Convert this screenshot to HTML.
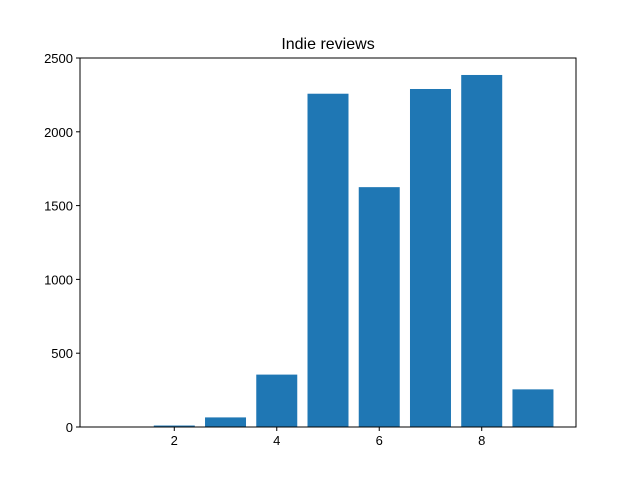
<!DOCTYPE html>
<html><head><meta charset="utf-8"><style>
body{margin:0;background:#fff;}
svg{display:block;font-family:"Liberation Sans","DejaVu Sans",sans-serif;}
</style></head><body>
<svg id="chart" width="640" height="480">
<rect width="640" height="480" fill="#fff"/>
<text x="328" y="49" text-anchor="middle" font-size="16">Indie reviews</text>
<g id="bars"></g>
<g id="xticks"></g>
<g id="yticks"></g>
<rect x="80" y="58" width="496" height="369" fill="none" stroke="#000" stroke-width="1"/>
</svg>
<script>
const categories=[1,2,3,4,5,6,7,8,9];
const values=[2,10,65,355,2258,1625,2290,2385,255];
const xTicks=[2,4,6,8];
const yTicks=[0,500,1000,1500,2000,2500];
const L=80,R=576,T=58,B=427,xmin=0.16,xmax=9.84,ymax=2500;
const sx=v=>L+(v-xmin)/(xmax-xmin)*(R-L);
const sy=v=>B-v/ymax*(B-T);
const NS="http://www.w3.org/2000/svg";
const bars=document.getElementById('bars');
categories.forEach((c,i)=>{
 const r=document.createElementNS(NS,'rect');
 const x0=sx(c-0.4),x1=sx(c+0.4);
 r.setAttribute('x',x0);r.setAttribute('width',x1-x0);
 r.setAttribute('y',sy(values[i]));r.setAttribute('height',B-sy(values[i]));
 r.setAttribute('fill','#1f77b4');
 
 
 bars.appendChild(r);
});
const xg=document.getElementById('xticks');
xTicks.forEach(t=>{
 const x=sx(t);
 const l=document.createElementNS(NS,'line');
 l.setAttribute('x1',x);l.setAttribute('x2',x);l.setAttribute('y1',B);l.setAttribute('y2',B+4);l.setAttribute('stroke','#000');
 
 
 xg.appendChild(l);
 const s=document.createElementNS(NS,'text');
 s.setAttribute('x',x);s.setAttribute('y',B+18);s.setAttribute('text-anchor','middle');s.setAttribute('font-size','13');
 s.textContent=t;
 
 
 xg.appendChild(s);
});
const yg=document.getElementById('yticks');
yTicks.forEach(t=>{
 const y=sy(t);
 const l=document.createElementNS(NS,'line');
 l.setAttribute('x1',L-4);l.setAttribute('x2',L);l.setAttribute('y1',y);l.setAttribute('y2',y);l.setAttribute('stroke','#000');
 
 
 yg.appendChild(l);
 const s=document.createElementNS(NS,'text');
 s.setAttribute('x',L-7);s.setAttribute('y',y+5);s.setAttribute('text-anchor','end');s.setAttribute('font-size','13');
 s.textContent=t;
 
 
 yg.appendChild(s);
});
</script>
</body></html>
